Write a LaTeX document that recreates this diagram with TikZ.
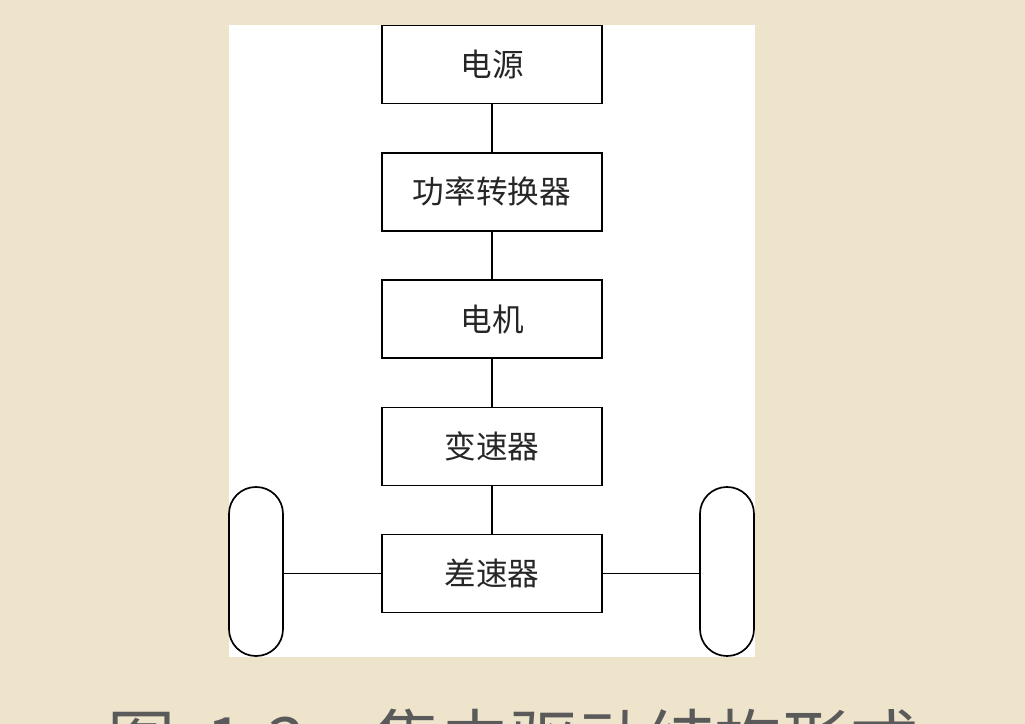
\documentclass[tikz,border=0pt]{standalone}
\usepackage{fontspec}
\newfontfamily\cjk{Noto Sans CJK SC}
\usetikzlibrary{positioning}
\definecolor{paper}{HTML}{EEE3CB}
\definecolor{capgray}{HTML}{5A5A5A}
\tikzset{
	unit/.style={draw, line width=1.2pt, fill=white, minimum width=5.5cm, minimum height=1.95cm, inner sep=0pt, font=\cjk\fontsize{22.5}{26}\selectfont, text=black!85},
	wheel/.style={draw, line width=1.2pt, fill=white, rounded corners=0.67cm, minimum width=1.35cm, minimum height=4.225cm, inner sep=0pt},
	link/.style={line width=1.2pt}
}

\begin{document}
\begin{tikzpicture}
			%%%%% START %%%%%
			
			\useasboundingbox (0, 0) rectangle (25.625, -18.1);
			\fill[paper] (0, 0) rectangle (25.625, -18.1);
			\fill[white] (5.725, -0.625) rectangle (18.875, -16.425);
			
			\node[unit] (source) at (12.3, -1.6125) {电源};
			\node[unit, below=1.19cm of source] (converter) {功率转换器};
			\node[unit, below=1.19cm of converter] (motor) {电机};
			\node[unit, below=1.19cm of motor] (gearbox) {变速器};
			\node[unit, below=1.19cm of gearbox] (diff) {差速器};
			
			\node[wheel] (wheelL) at (6.4, -14.2875) {};
			\node[wheel] (wheelR) at (18.175, -14.2875) {};
			
			\draw[link] (source) -- (converter);
			\draw[link] (converter) -- (motor);
			\draw[link] (motor) -- (gearbox);
			\draw[link] (gearbox) -- (diff);
			\draw[link] (diff.west) -- (diff.west -| wheelL.east);
			\draw[link] (diff.east) -- (diff.east -| wheelR.west);
			
			\node[anchor=base west, inner sep=0pt, text=capgray, font=\cjk\fontsize{48.5}{56}\selectfont] (caption) at (2.675, -19.15) {图\hspace{0.45em}1-3\hspace{1.0em}集中驱动结构形式};
			
			%%%%% END %%%%%
\end{tikzpicture}
\end{document}
